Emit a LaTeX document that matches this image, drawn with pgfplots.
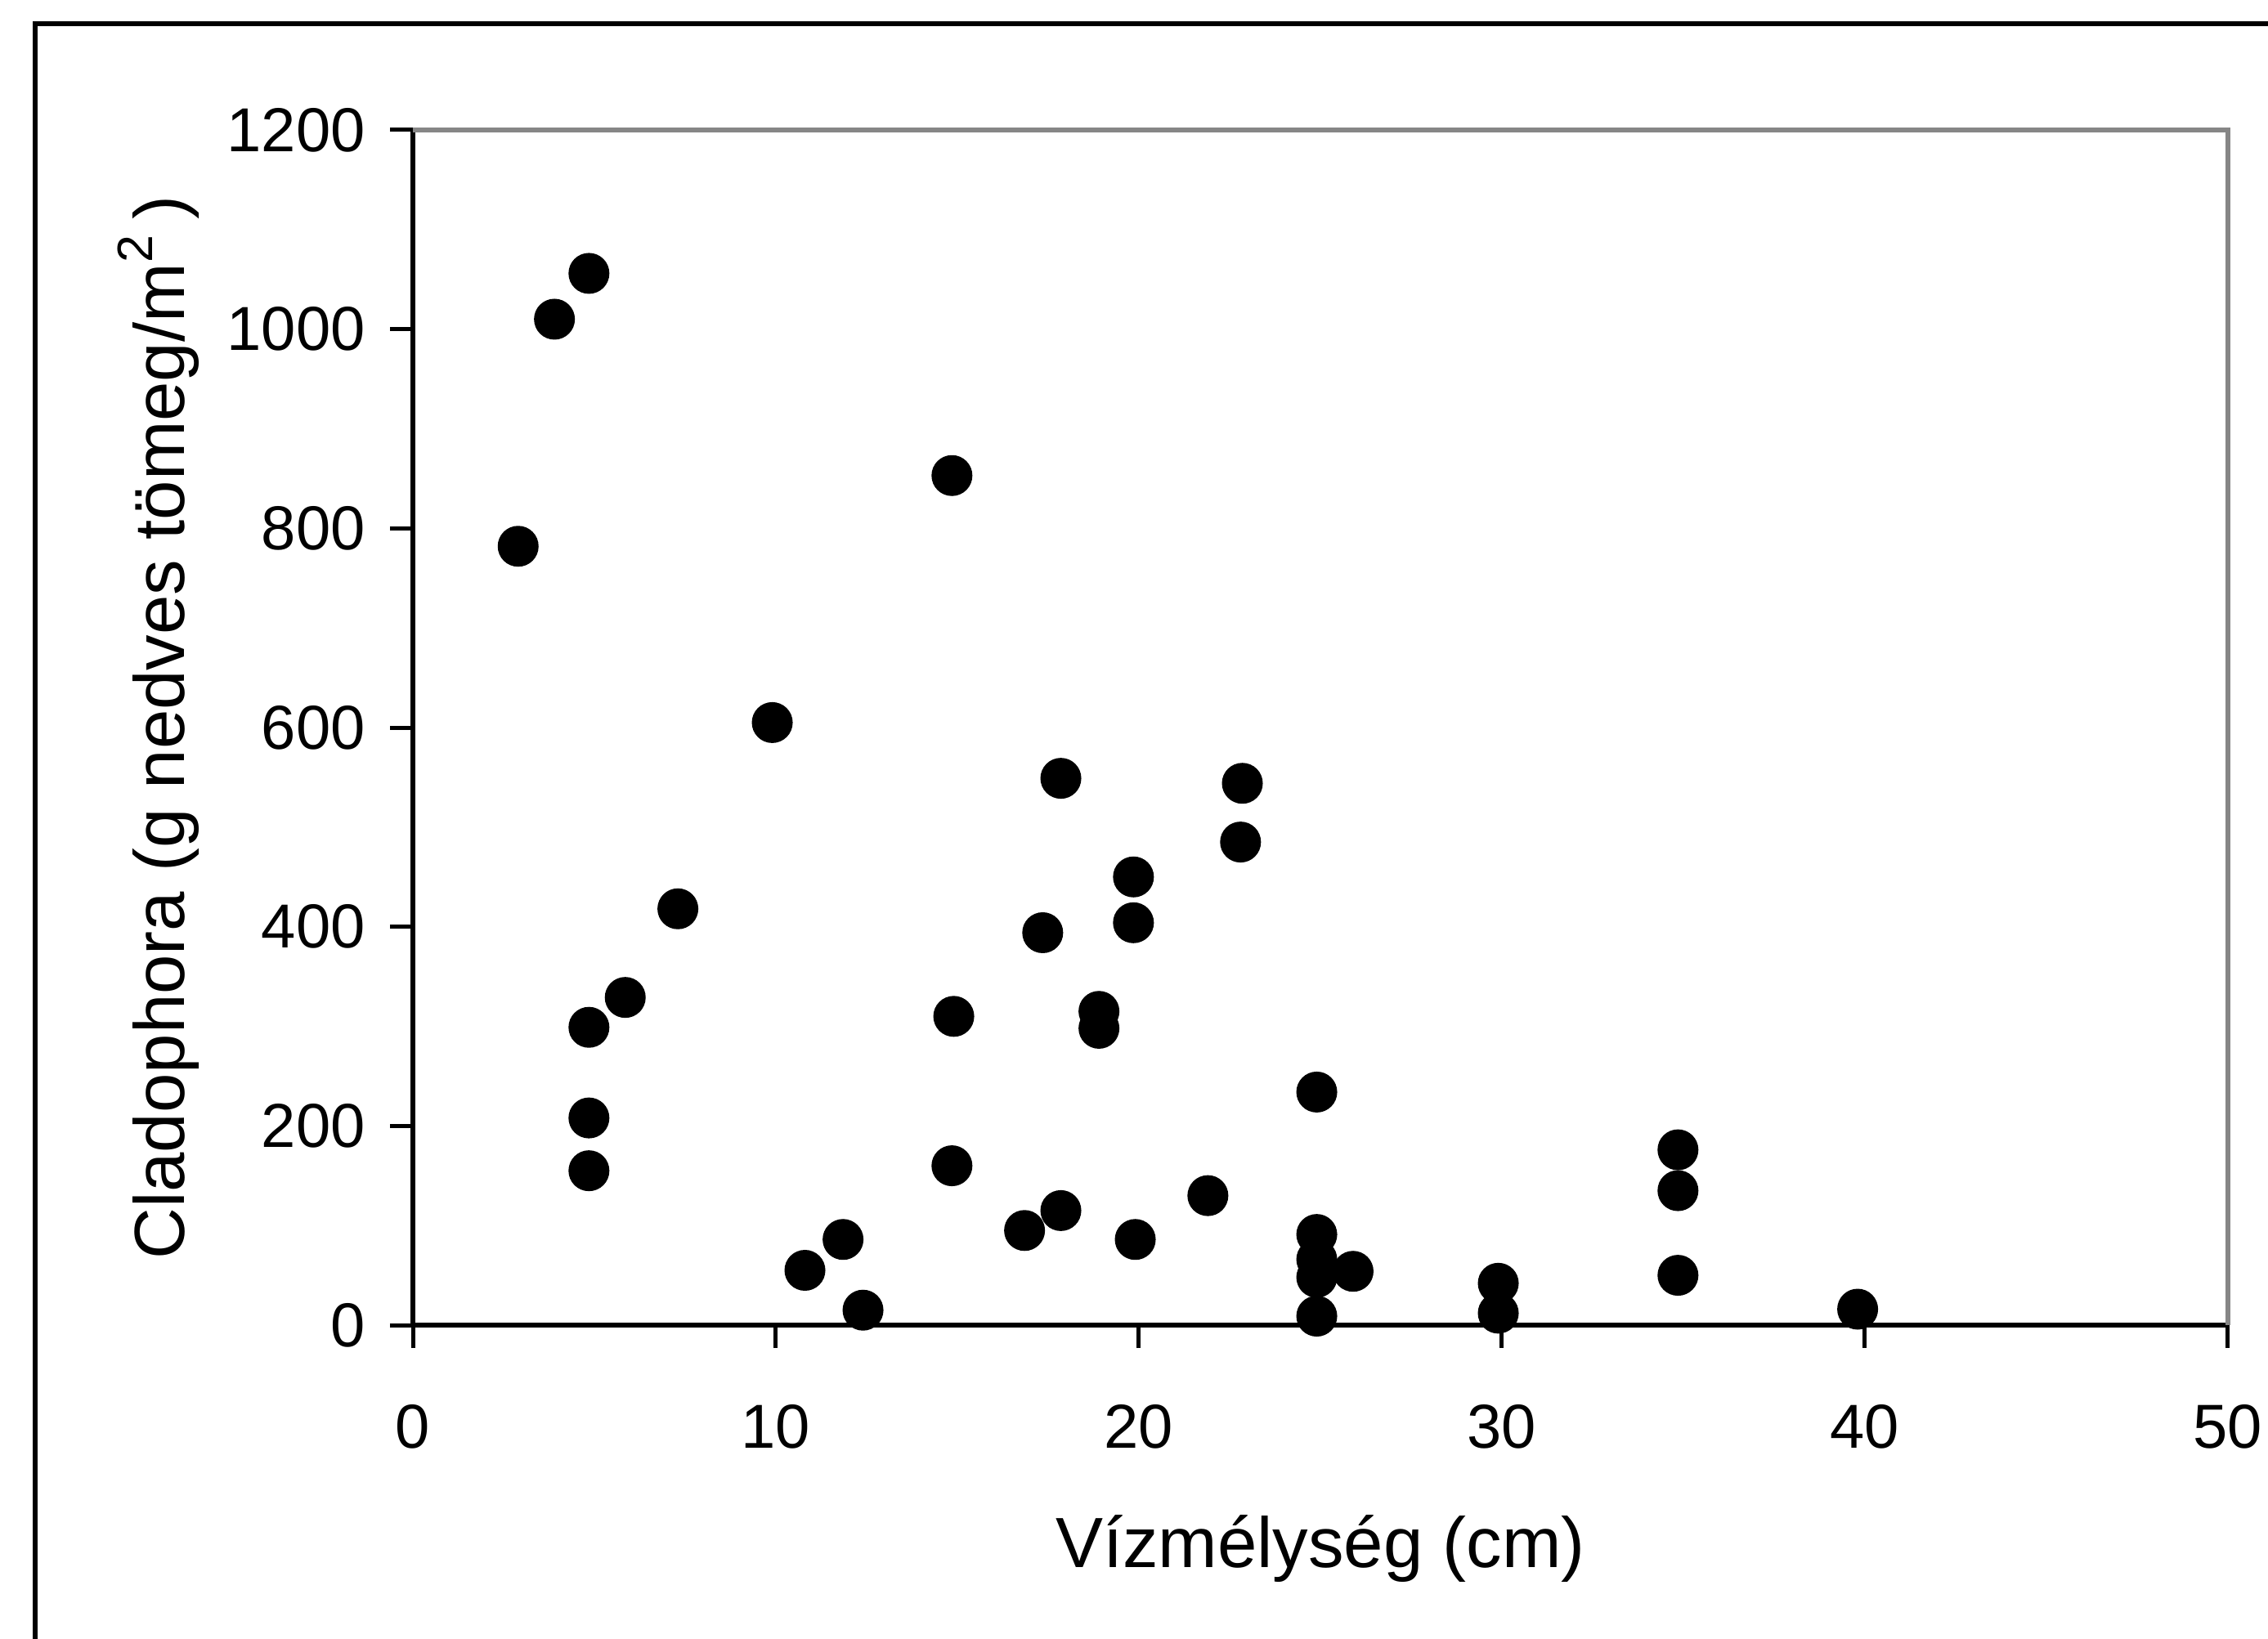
\documentclass[border=0pt]{standalone}
\usepackage{fontspec}
\setmainfont{Liberation Sans}
\usepackage{pgfplots}
\pgfplotsset{compat=1.18}
\definecolor{axgray}{RGB}{134,134,134}
\begin{document}
\begin{tikzpicture}
\useasboundingbox (0,0) rectangle (277.4pt,200.4pt);
\draw[line width=0.55pt] (4.3pt,-10pt) -- (4.3pt,197.5pt) -- (295pt,197.5pt);
\begin{axis}[
  at={(50.5pt,38.3pt)}, anchor=south west,
  scale only axis, width=222pt, height=146.2pt,
  xmin=0, xmax=50, ymin=0, ymax=1200,
  xtick={0,10,...,50}, ytick={0,200,...,1200},
  axis lines*=left,
  tick align=outside, major tick length=2.8pt,
  tick style={black, line width=0.5pt},
  axis line style={black, line width=0.65pt},
  /pgf/number format/assume math mode=true,
  /pgf/number format/1000 sep={},
  scaled ticks=false,
  tick label style={font=\fontsize{7.6}{9}\selectfont},
  xticklabel style={yshift=-3.4pt},
  yticklabel style={xshift=0.5pt},
  label style={font=\fontsize{8.7}{10}\selectfont},
  xlabel={Vízmélység (cm)},
  ylabel={Cladophora (g nedves tömeg/m\textsuperscript{2}\,)},
  x label style={at={(axis description cs:0.5,-0.2025)}, anchor=base},
  y label style={at={(axis description cs:-0.1261,0.5)}, anchor=base},
  clip=false,
]
\draw[axgray, line width=0.6pt] (rel axis cs:0,1) -- (rel axis cs:1,1) -- (rel axis cs:1,0);
\addplot[only marks, mark=*, mark size=2.3pt, black, mark options={fill=black, draw=black}] coordinates {
(2.9,782) (3.9,1010) (4.85,1056) (4.85,299) (4.85,208) (4.85,155)
(5.85,329) (7.3,418) (9.9,605) (10.8,55) (11.85,86) (12.4,15)
(14.85,853) (14.9,310) (14.85,160) (16.85,95) (17.35,394) (17.85,549)
(17.85,115) (18.9,315) (18.9,298) (19.85,450) (19.85,404) (19.9,86)
(21.9,130) (22.85,544) (22.8,485) (24.9,234) (24.9,91) (24.9,66)
(24.9,48) (24.9,9) (25.9,54) (29.9,42) (29.9,12) (34.85,176)
(34.85,135) (34.85,50) (39.8,16)
};
\end{axis}
\end{tikzpicture}
\end{document}
